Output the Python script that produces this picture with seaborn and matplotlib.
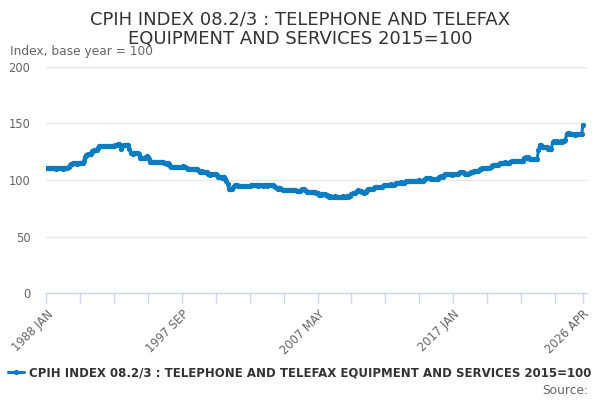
import matplotlib
matplotlib.use("Agg")
import matplotlib.pyplot as plt
import seaborn as sns
import pandas as pd
import numpy as np

title_lines = ["CPIH INDEX 08.2/3 : TELEPHONE AND TELEFAX",
               "EQUIPMENT AND SERVICES 2015=100"]
series_name = "CPIH INDEX 08.2/3 : TELEPHONE AND TELEFAX EQUIPMENT AND SERVICES 2015=100"
y_label = "Index, base year = 100"
start_period = "1988-01"

# monthly values, one row per year (1988 ... 2026 APR)
v1988 = [110.4,110.2,110.3,110.2,110.3,110.4,110.2,110.3,110.1,110.3,110.2,110.3]
v1989 = [110.2,110.3,110.1,110.2,110.3,110.2,110.4,111.6,113.0,114.2,114.6,114.8]
v1990 = [114.7,114.9,114.6,114.8,114.7,114.9,114.8,115.0,117.2,120.1,121.8,122.4]
v1991 = [123.0,122.8,123.2,125.3,125.8,126.2,126.5,126.7,128.6,130.2,130.4,130.3]
v1992 = [130.5,130.2,130.4,130.3,130.1,130.4,130.2,130.3,130.0,130.2,130.4,130.6]
v1993 = [131.2,131.5,131.6,131.3,127.7,130.2,131.0,131.2,130.9,131.1,130.8,127.2]
v1994 = [123.8,123.6,123.4,123.7,123.5,123.6,123.8,123.4,119.8,119.5,119.3,119.6]
v1995 = [119.8,120.6,120.8,120.5,118.2,116.2,116.0,115.8,116.1,116.0,115.9,116.1]
v1996 = [116.0,115.8,116.1,115.9,116.0,114.8,114.7,114.5,114.7,114.6,112.0,111.8]
v1997 = [111.6,111.8,111.5,111.7,111.9,111.8,111.6,111.4,111.5,112.0,111.7,111.4]
v1998 = [110.2,109.8,109.7,109.9,109.6,109.7,109.8,109.5,109.7,109.6,108.6,107.5]
v1999 = [107.4,107.6,107.3,107.4,107.2,107.5,105.3,105.0,104.8,105.1,104.9,105.0]
v2000 = [105.2,104.9,104.2,102.6,102.4,102.5,102.2,102.4,102.3,100.6,99.4,96.2]
v2001 = [92.4,91.8,91.6,92.0,93.8,95.4,95.6,95.2,94.8,94.7,94.6,94.8]
v2002 = [94.7,94.5,94.8,94.6,94.7,94.9,94.7,95.3,95.4,95.2,95.5,95.3]
v2003 = [95.4,95.1,95.3,95.6,95.2,95.0,95.4,95.7,95.3,95.1,95.5,95.6]
v2004 = [95.3,95.8,95.2,95.0,93.4,92.6,92.4,92.7,92.5,91.6,91.3,91.2]
v2005 = [91.3,91.0,91.2,91.4,91.1,91.0,91.2,90.9,91.1,90.8,90.7,90.5]
v2006 = [90.6,90.4,91.2,92.0,91.8,91.4,90.2,89.8,89.6,89.7,89.5,89.8]
v2007 = [89.6,89.2,89.0,88.9,88.2,86.8,86.5,86.8,87.4,87.6,87.2,86.6]
v2008 = [86.4,85.6,85.3,85.4,85.2,85.3,85.1,85.4,85.2,85.3,84.8,84.6]
v2009 = [84.7,85.3,85.4,85.2,85.3,85.5,85.2,85.4,85.6,87.6,88.2,88.4]
v2010 = [88.6,89.4,90.6,90.8,90.5,90.7,89.2,89.0,88.9,89.4,91.5,91.8]
v2011 = [91.7,91.9,91.6,92.2,93.3,93.5,93.6,93.4,93.5,93.7,93.6,94.0]
v2012 = [94.4,95.8,95.9,95.7,96.0,95.8,95.9,96.1,95.8,96.0,96.2,97.0]
v2013 = [97.4,97.6,97.5,97.8,97.6,97.7,97.5,97.9,98.9,99.1,99.2,99.0]
v2014 = [99.1,99.3,99.4,99.2,99.5,99.3,99.4,99.6,99.3,99.4,99.5,100.4]
v2015 = [101.3,101.5,101.6,101.4,101.5,101.2,100.9,100.8,101.0,100.9,100.8,101.1]
v2016 = [102.8,103.0,103.1,102.9,104.2,104.9,105.0,105.2,104.9,105.1,105.0,104.8]
v2017 = [105.0,105.2,104.9,105.1,105.3,106.6,106.8,106.9,106.7,106.5,105.3,105.0]
v2018 = [104.9,105.1,106.6,106.8,106.9,107.0,108.2,108.3,108.4,108.2,108.5,109.4]
v2019 = [110.1,110.3,110.2,110.4,110.3,110.5,110.3,110.6,111.2,112.8,113.3,113.4]
v2020 = [113.3,113.5,113.2,114.0,115.1,115.3,115.4,115.2,115.5,115.3,115.4,115.2]
v2021 = [115.3,115.6,116.8,117.0,117.1,116.9,117.0,117.2,116.8,117.0,116.9,117.1]
v2022 = [117.0,119.6,120.1,119.9,120.2,119.8,118.8,118.6,118.5,118.7,118.4,118.6]
v2023 = [119.0,126.5,131.0,130.6,129.6,129.5,129.3,129.6,129.4,127.2,127.0,127.3]
v2024 = [127.1,133.6,134.1,133.9,134.0,134.2,133.8,134.0,134.1,133.9,134.2,134.5]
v2025 = [135.2,141.0,141.3,141.2,140.6,140.4,140.3,140.5,140.2,140.4,140.3,140.5]
v2026 = [140.4,140.6,140.7,148.7]

values = (v1988 + v1989 + v1990 + v1991 + v1992 + v1993 + v1994 + v1995 + v1996 +
          v1997 + v1998 + v1999 + v2000 + v2001 + v2002 + v2003 + v2004 + v2005 +
          v2006 + v2007 + v2008 + v2009 + v2010 + v2011 + v2012 + v2013 + v2014 +
          v2015 + v2016 + v2017 + v2018 + v2019 + v2020 + v2021 + v2022 + v2023 +
          v2024 + v2025 + v2026)

periods = pd.period_range(start_period, periods=len(values), freq="M")
month_labels = [p.strftime("%Y %b").upper() for p in periods]
labelled_ticks = ["1988 JAN", "1997 SEP", "2007 MAY", "2017 JAN", "2026 APR"]
y_ticks = [0, 50, 100, 150, 200]

df = pd.DataFrame({"idx": np.arange(len(values)), "month": month_labels, "value": values})

sns.set_theme(style="white")
plt.rcParams["font.family"] = ["DejaVu Sans"]

W, H = 600, 400
fig = plt.figure(figsize=(6, 4), dpi=100)
left, right, top, bottom = 46.4, 587, 67, 293
ax = fig.add_axes([left / W, (H - bottom) / H, (right - left) / W, (bottom - top) / H])

line_color = "#0b7cc1"
sns.lineplot(data=df, x="idx", y="value", ax=ax, color=line_color, linewidth=2.2,
             marker="o", markersize=3.8, markeredgewidth=0, label=series_name, legend=False)

ax.set_xlim(0, 462.5)
ax.set_ylim(0, 200)
ax.set_xlabel("")
ax.set_ylabel("")

# y axis
ax.set_yticks(y_ticks)
ax.set_yticklabels([str(t) for t in y_ticks])
ax.tick_params(axis="y", length=0, pad=11.5, labelsize=8.3, labelcolor="#666666")
for t in y_ticks[1:]:
    ax.axhline(t, color="#e6e6e6", linewidth=1, zorder=0)

# x axis
major_pos = [month_labels.index(l) for l in labelled_ticks]
minor_pos = [i for i in range(0, len(values), 29) if i not in major_pos]
ax.set_xticks(major_pos)
ax.set_xticklabels(labelled_ticks, rotation=45, ha="right", va="top", rotation_mode="anchor")
ax.set_xticks(minor_pos, minor=True)
ax.tick_params(axis="x", which="both", length=7.2, width=1, color="#ccd6eb",
               direction="out", bottom=True)
ax.tick_params(axis="x", which="major", pad=3.5, labelsize=8.3, labelcolor="#666666")

for s in ["top", "right", "left"]:
    ax.spines[s].set_visible(False)
ax.spines["bottom"].set_color("#ccd6eb")
ax.spines["bottom"].set_linewidth(1)
ax.grid(False)

# titles and texts
fig.text(0.5, 1 - 19 / H, title_lines[0], ha="center", va="center", fontsize=13, color="#333333")
fig.text(0.5, 1 - 39 / H, title_lines[1], ha="center", va="center", fontsize=13, color="#333333")
fig.text(10 / W, 1 - 52 / H, y_label, ha="left", va="center", fontsize=8.8, color="#666666")
fig.text(588 / W, 1 - 390 / H, "Source:", ha="right", va="center", fontsize=8.8, color="#666666")

handles, labels = ax.get_legend_handles_labels()
leg = ax.legend(handles, labels, loc="center", bbox_to_anchor=(300 / W, 1 - 373 / H),
                bbox_transform=fig.transFigure, frameon=False,
                prop={"weight": "bold", "size": 8.5}, handlelength=1.3, handletextpad=0.5)
for t in leg.get_texts():
    t.set_color("#333333")

fig.savefig("out.png", dpi=100)
